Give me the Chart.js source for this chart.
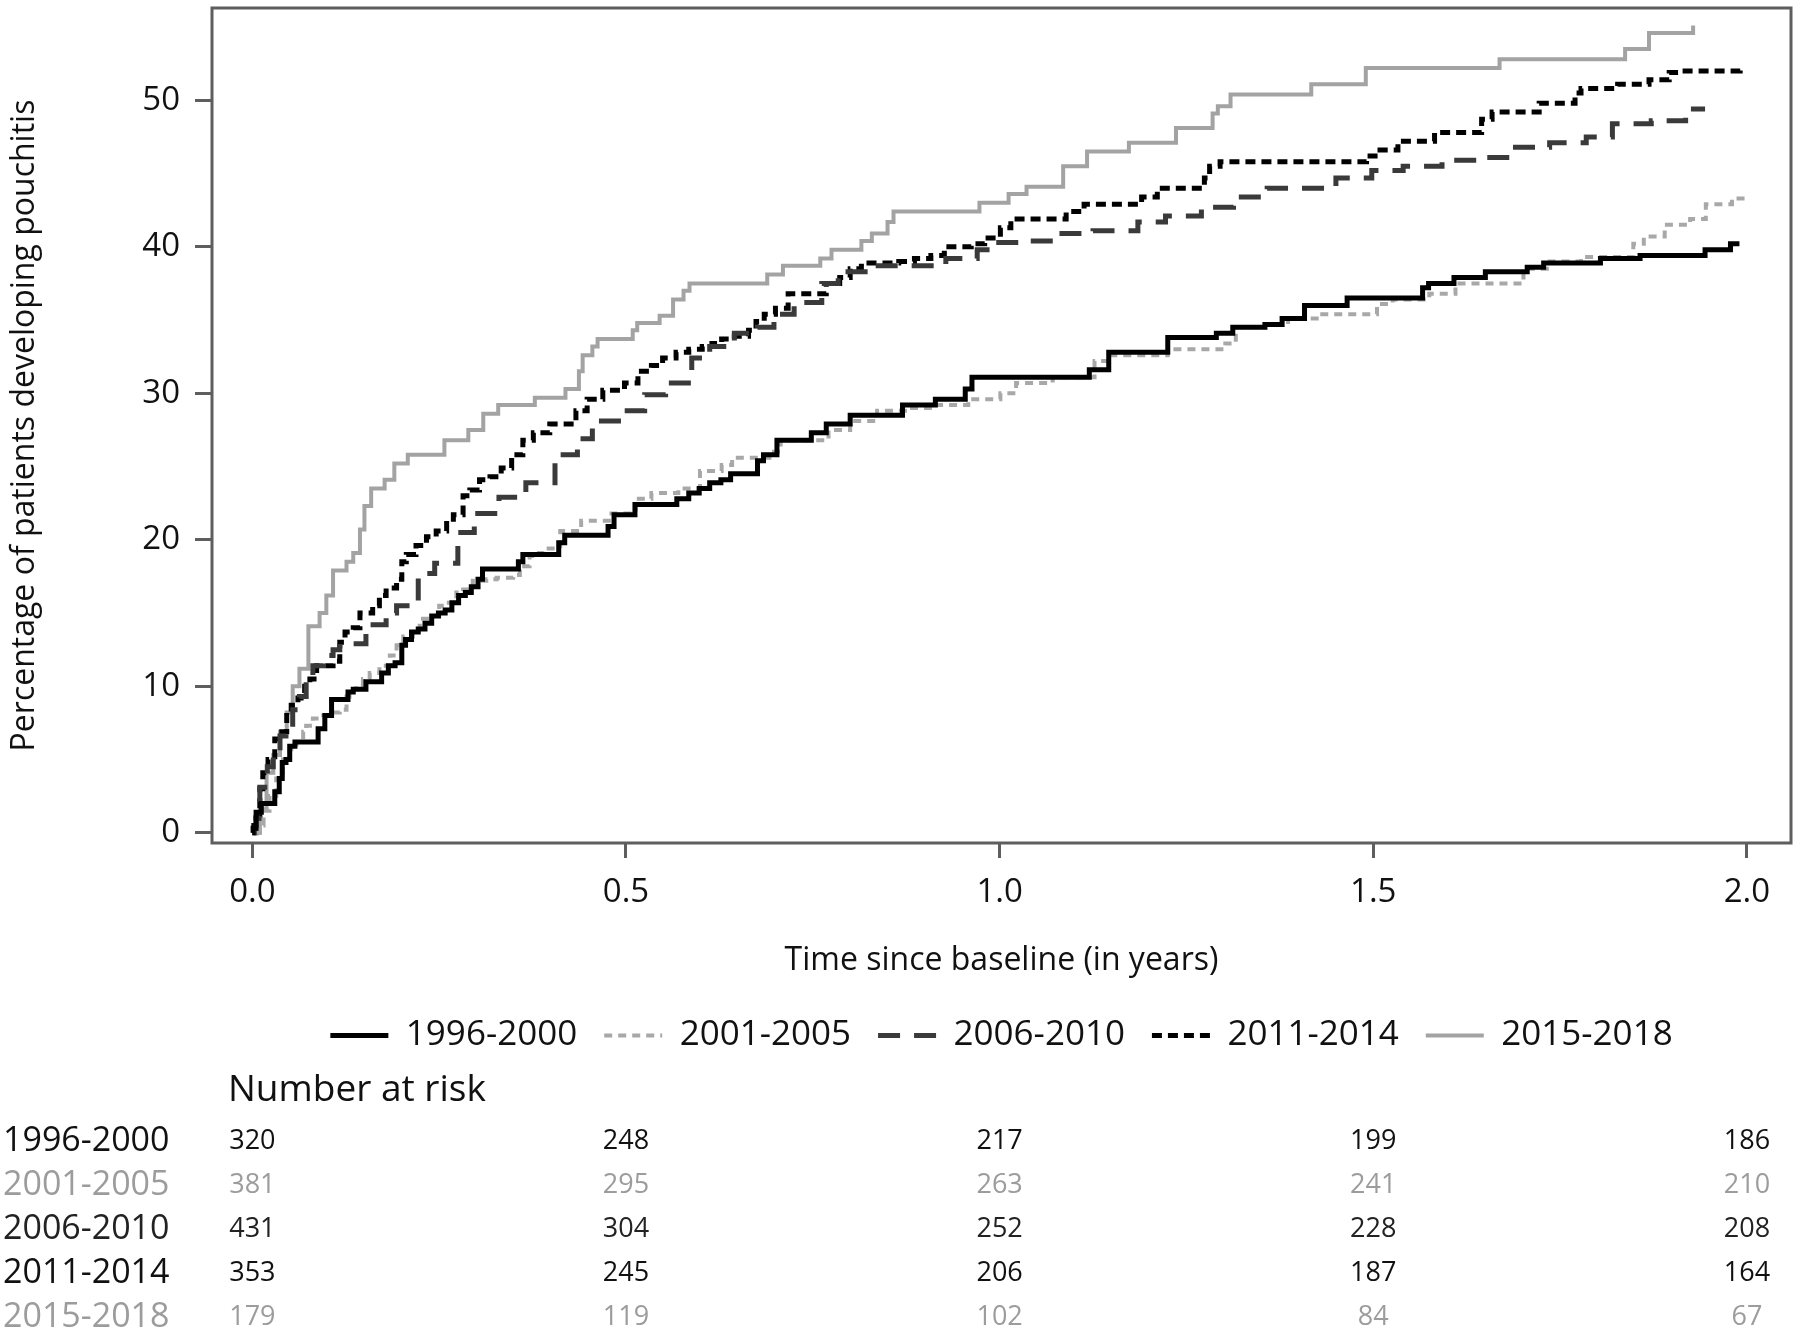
<!DOCTYPE html>
<html>
<head>
<meta charset="utf-8">
<title>Cumulative incidence of pouchitis</title>
<script src="https://cdn.jsdelivr.net/npm/chart.js@4.4.0/dist/chart.umd.min.js"></script>
<style>
  html, body { margin: 0; padding: 0; background: #fff; }
  #wrap { width: 1800px; height: 1335px; }
</style>
</head>
<body>
<div id="wrap"><canvas id="km" width="1800" height="1335"></canvas></div>
<script>
// cohort periods (legend / risk table rows)
const periods = ['1996-2000', '2001-2005', '2006-2010', '2011-2014', '2015-2018'];

// Kaplan-Meier style steps: [years, % with pouchitis]
const km1996 = [[0,0],[0.001,0.3],[0.005,1.4],[0.012,2.0],[0.030,2.8],[0.036,3.7],[0.040,4.8],[0.045,5.0],[0.050,5.9],[0.057,6.2],[0.088,7.1],[0.097,8.0],[0.106,9.1],[0.128,9.6],[0.135,9.8],[0.152,10.3],[0.173,10.9],[0.182,11.4],[0.191,11.6],[0.200,12.8],[0.205,13.2],[0.213,13.7],[0.222,13.9],[0.231,14.3],[0.240,14.8],[0.249,15.0],[0.258,15.2],[0.267,15.7],[0.276,16.2],[0.285,16.4],[0.293,16.8],[0.302,17.3],[0.308,18.0],[0.356,18.5],[0.362,19.0],[0.410,19.8],[0.418,20.3],[0.476,20.9],[0.484,21.7],[0.512,22.4],[0.568,22.8],[0.584,23.2],[0.598,23.5],[0.612,23.9],[0.627,24.1],[0.640,24.5],[0.676,25.4],[0.684,25.8],[0.702,26.8],[0.748,27.3],[0.768,27.9],[0.800,28.5],[0.870,29.2],[0.914,29.6],[0.954,30.3],[0.963,31.1],[1.120,31.6],[1.146,32.8],[1.225,33.8],[1.290,34.1],[1.312,34.5],[1.355,34.7],[1.378,35.1],[1.408,36.0],[1.465,36.5],[1.566,37.2],[1.574,37.5],[1.608,37.9],[1.650,38.3],[1.706,38.6],[1.728,38.9],[1.804,39.2],[1.857,39.4],[1.944,39.8],[1.978,40.2],[1.990,40.2]];
const km2001 = [[0.006,0],[0.010,0.5],[0.015,1.5],[0.023,2.5],[0.032,3.7],[0.041,5.0],[0.050,5.7],[0.059,6.2],[0.068,6.9],[0.072,7.3],[0.081,7.8],[0.095,8.0],[0.104,8.2],[0.117,8.4],[0.126,9.3],[0.130,9.8],[0.139,10.1],[0.148,10.5],[0.157,10.9],[0.170,11.4],[0.184,12.1],[0.193,12.8],[0.202,13.4],[0.215,13.9],[0.224,14.6],[0.237,14.8],[0.250,15.5],[0.260,15.7],[0.273,16.4],[0.282,16.6],[0.295,17.2],[0.313,17.3],[0.327,17.4],[0.349,17.6],[0.358,18.2],[0.371,18.9],[0.380,19.1],[0.390,19.4],[0.412,20.6],[0.440,21.3],[0.477,21.8],[0.513,22.8],[0.534,23.2],[0.570,23.5],[0.599,24.7],[0.628,25.1],[0.642,25.6],[0.692,26.0],[0.707,26.8],[0.771,27.5],[0.800,28.1],[0.836,28.8],[0.879,29.0],[0.915,29.2],[0.958,29.6],[1.001,30.0],[1.022,30.7],[1.071,31.1],[1.127,32.2],[1.148,32.6],[1.225,33.0],[1.302,33.4],[1.316,34.5],[1.355,34.7],[1.386,35.1],[1.428,35.4],[1.505,36.1],[1.526,36.4],[1.575,36.8],[1.610,37.5],[1.701,38.5],[1.736,39.0],[1.778,39.3],[1.848,40.2],[1.862,40.7],[1.890,41.5],[1.924,41.9],[1.945,42.9],[1.980,43.3],[2.000,43.4]];
const km2006 = [[0.003,0],[0.005,1.0],[0.010,3.1],[0.020,4.5],[0.028,5.3],[0.037,6.6],[0.045,7.1],[0.054,8.4],[0.063,9.3],[0.072,10.3],[0.081,11.4],[0.095,12.1],[0.108,12.5],[0.117,12.9],[0.152,14.2],[0.179,15.0],[0.193,15.5],[0.222,17.7],[0.244,18.4],[0.275,20.5],[0.297,21.8],[0.330,22.9],[0.366,23.9],[0.405,25.8],[0.435,26.9],[0.455,28.1],[0.495,28.8],[0.525,29.9],[0.553,30.7],[0.588,32.4],[0.612,33.2],[0.645,34.1],[0.676,34.5],[0.698,35.4],[0.725,36.2],[0.762,37.5],[0.784,38.3],[0.820,38.7],[0.928,39.2],[0.970,39.8],[0.992,40.3],[1.030,40.4],[1.075,40.9],[1.125,41.1],[1.185,41.7],[1.222,42.1],[1.270,42.7],[1.313,43.4],[1.358,44.0],[1.450,44.7],[1.498,45.2],[1.540,45.5],[1.592,45.9],[1.645,46.1],[1.684,46.8],[1.736,47.1],[1.785,47.5],[1.820,48.4],[1.872,48.6],[1.918,49.4],[1.944,49.4]];
const km2011 = [[0,0],[0.002,0.5],[0.005,1.0],[0.010,3.0],[0.014,4.1],[0.021,5.0],[0.030,6.4],[0.035,6.9],[0.046,8.2],[0.052,8.7],[0.061,9.2],[0.070,10.0],[0.077,10.5],[0.086,11.4],[0.108,11.7],[0.117,13.0],[0.124,13.7],[0.135,14.0],[0.144,15.0],[0.161,15.5],[0.170,16.2],[0.179,16.7],[0.193,17.3],[0.200,18.5],[0.206,19.0],[0.219,19.6],[0.233,20.2],[0.246,20.6],[0.260,21.4],[0.269,21.7],[0.282,23.0],[0.291,23.4],[0.304,24.1],[0.318,24.3],[0.333,24.9],[0.347,25.8],[0.362,26.8],[0.376,27.3],[0.398,27.9],[0.433,28.8],[0.448,29.6],[0.469,30.2],[0.498,30.7],[0.516,31.5],[0.534,31.9],[0.549,32.4],[0.567,32.8],[0.584,33.0],[0.602,33.2],[0.615,33.4],[0.628,33.7],[0.645,33.9],[0.664,34.3],[0.674,34.9],[0.685,35.4],[0.700,35.8],[0.717,36.8],[0.768,37.5],[0.786,37.9],[0.800,38.5],[0.815,38.9],[0.865,39.0],[0.886,39.2],[0.908,39.4],[0.926,40.0],[0.962,40.2],[0.980,40.6],[1.001,41.3],[1.015,41.9],[1.089,42.4],[1.113,42.9],[1.190,43.4],[1.211,44.0],[1.274,44.7],[1.281,45.5],[1.295,45.8],[1.491,46.2],[1.509,46.6],[1.533,47.2],[1.582,47.8],[1.645,48.7],[1.659,49.2],[1.722,49.8],[1.770,50.5],[1.778,50.8],[1.827,51.1],[1.869,51.4],[1.896,51.9],[1.910,52.0],[1.991,52.4]];
const km2015 = [[0.008,0],[0.010,1.6],[0.019,4.1],[0.028,5.3],[0.037,6.9],[0.046,8.2],[0.054,10.0],[0.063,11.2],[0.075,14.1],[0.090,15.0],[0.099,16.2],[0.108,17.9],[0.126,18.5],[0.135,19.1],[0.144,20.7],[0.150,22.3],[0.159,23.5],[0.177,24.1],[0.190,25.2],[0.208,25.8],[0.257,26.8],[0.289,27.5],[0.309,28.6],[0.329,29.2],[0.378,29.7],[0.419,30.3],[0.437,31.5],[0.442,32.6],[0.455,33.2],[0.462,33.7],[0.509,34.3],[0.515,34.8],[0.545,35.3],[0.563,36.4],[0.577,37.0],[0.585,37.5],[0.689,38.1],[0.710,38.7],[0.760,39.2],[0.775,39.8],[0.815,40.4],[0.829,40.9],[0.850,41.7],[0.858,42.4],[0.973,43.0],[1.012,43.6],[1.036,44.1],[1.085,45.5],[1.117,46.5],[1.173,47.1],[1.236,48.1],[1.285,49.1],[1.292,49.6],[1.309,50.4],[1.417,51.1],[1.490,52.2],[1.669,52.8],[1.837,53.5],[1.869,54.6],[1.928,54.6],[1.928,55.1]];

// axis ticks
const xTicks = [0, 0.5, 1.0, 1.5, 2.0];
const yTicks = [0, 10, 20, 30, 40, 50];

// number at risk, at each x tick
const risk1996 = [320, 248, 217, 199, 186];
const risk2001 = [381, 295, 263, 241, 210];
const risk2006 = [431, 304, 252, 228, 208];
const risk2011 = [353, 245, 206, 187, 164];
const risk2015 = [179, 119, 102, 84, 67];

const FONT = '"Open Sans", "Noto Sans", sans-serif';
const AXIS_GREY = '#5e5e5e';
const INK = '#111';

const curves = [km1996, km2001, km2006, km2011, km2015];
const styles = [
  { color: '#000000', width: 5, dash: [] },
  { color: '#a8a8a8', width: 4, dash: [8, 6] },
  { color: '#3a3a3a', width: 5, dash: [22, 14] },
  { color: '#000000', width: 5, dash: [10, 6] },
  { color: '#a3a3a3', width: 4, dash: [] }
];
const riskRows = [
  { n: risk1996, color: INK },
  { n: risk2001, color: '#9c9c9c' },
  { n: risk2006, color: '#222' },
  { n: risk2011, color: INK },
  { n: risk2015, color: '#9c9c9c' }
];

const datasets = periods.map((p, i) => ({
  label: p,
  data: curves[i].map(([x, y]) => ({ x, y })),
  borderColor: styles[i].color,
  backgroundColor: styles[i].color,
  borderWidth: styles[i].width,
  borderDash: styles[i].dash,
  borderCapStyle: 'butt',
  stepped: 'before',
  pointRadius: 0,
  pointHoverRadius: 0,
  fill: false
}));

// box around the plot + number-at-risk table under the legend
const frameAndRisk = {
  id: 'frameAndRisk',
  afterDraw(chart){
    const { ctx, chartArea: ca, scales: { x } } = chart;
    ctx.save();
    ctx.strokeStyle = AXIS_GREY;
    ctx.lineWidth = 3;
    ctx.strokeRect(ca.left, ca.top, ca.right - ca.left, ca.bottom - ca.top);

    ctx.textBaseline = 'middle';
    ctx.textAlign = 'left';
    ctx.fillStyle = INK;
    ctx.font = '37px ' + FONT;
    ctx.fillText('Number at risk', 228, 1090);

    riskRows.forEach((row, i) => {
      const y = 1141 + i * 44.2;
      ctx.fillStyle = row.color;
      ctx.textAlign = 'left';
      ctx.font = '34px ' + FONT;
      ctx.fillText(periods[i], 3, y);
      ctx.textAlign = 'center';
      ctx.font = '27px ' + FONT;
      row.n.forEach((n, j) => ctx.fillText(String(n), x.getPixelForValue(xTicks[j]), y));
    });
    ctx.restore();
  }
};

Chart.defaults.font.family = FONT;
Chart.defaults.color = INK;

new Chart(document.getElementById('km'), {
  type: 'line',
  data: { datasets },
  plugins: [frameAndRisk],
  options: {
    responsive: false,
    animation: false,
    devicePixelRatio: 1,
    events: [],
    layout: { padding: { top: 8, right: 9, bottom: 272, left: 0 } },
    plugins: {
      tooltip: { enabled: false },
      legend: {
        position: 'bottom',
        fullSize: false,
        labels: {
          usePointStyle: true,
          pointStyleWidth: 58,
          padding: 27,
          color: INK,
          font: { size: 35 },
          generateLabels(chart){
            return Chart.defaults.plugins.legend.labels.generateLabels(chart).map(it => {
              const ds = chart.data.datasets[it.datasetIndex];
              return { ...it, pointStyle: 'line', lineDash: ds.borderDash, lineWidth: ds.borderWidth, strokeStyle: ds.borderColor };
            });
          }
        }
      }
    },
    scales: {
      x: {
        type: 'linear',
        min: -0.054,
        max: 2.059,
        afterBuildTicks: s => { s.ticks = xTicks.map(v => ({ value: v })); },
        afterFit: s => { s.height = 148; s.paddingLeft = 0; s.paddingRight = 0; },
        border: { display: false },
        grid: { drawOnChartArea: false, drawTicks: true, tickLength: 15, tickWidth: 3, tickColor: AXIS_GREY },
        ticks: { padding: 15, color: INK, font: { size: 33 }, maxRotation: 0, callback: v => Number(v).toFixed(1) },
        title: { display: true, text: 'Time since baseline (in years)', color: INK, font: { size: 32 }, padding: { top: 0, bottom: 11 } }
      },
      y: {
        min: -0.7,
        max: 56.3,
        afterBuildTicks: s => { s.ticks = yTicks.map(v => ({ value: v })); },
        afterFit: s => { s.width = 212; s.paddingTop = 0; s.paddingBottom = 0; },
        border: { display: false },
        grid: { drawOnChartArea: false, drawTicks: true, tickLength: 17, tickWidth: 3, tickColor: AXIS_GREY },
        ticks: { padding: 15, color: INK, font: { size: 33 } },
        title: { display: true, text: 'Percentage of patients developing pouchitis', color: INK, font: { size: 32 }, padding: { top: 6, bottom: 0 } }
      }
    }
  }
});
</script>
</body>
</html>
